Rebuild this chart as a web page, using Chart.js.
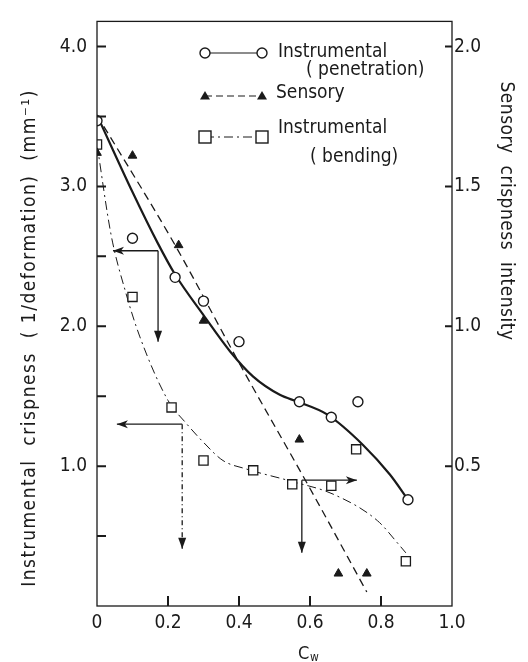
<!DOCTYPE html>
<html>
<head>
<meta charset="utf-8">
<script src="https://cdn.jsdelivr.net/npm/chart.js@4.4.1/dist/chart.umd.min.js"></script>
<style>
  html, body { margin: 0; padding: 0; background: #fff; }
  #wrap { width: 528px; height: 662px; }
</style>
</head>
<body>
<div id="wrap"><canvas id="chart" width="528" height="662"></canvas></div>
<script>
const penX = [0, 0.10, 0.22, 0.30, 0.40, 0.57, 0.66, 0.735, 0.876];
const penY = [3.47, 2.63, 2.35, 2.18, 1.89, 1.46, 1.35, 1.46, 0.76];

const senX = [0, 0.10, 0.23, 0.30, 0.57, 0.68, 0.76];
const senY = [1.62, 1.61, 1.29, 1.02, 0.595, 0.116, 0.116];

const bendX = [0, 0.10, 0.21, 0.30, 0.44, 0.55, 0.66, 0.73, 0.87];
const bendY = [3.30, 2.21, 1.42, 1.04, 0.97, 0.87, 0.86, 1.12, 0.32];

// fitted curves as drawn in the figure
const penFitX = [0, 0.10, 0.17, 0.22, 0.30, 0.375, 0.44, 0.515, 0.566, 0.648, 0.75, 0.825, 0.876];
const penFitY = [3.51, 2.96, 2.60, 2.37, 2.08, 1.82, 1.64, 1.51, 1.46, 1.37, 1.15, 0.94, 0.76];

const senFitX = [0, 0.22, 0.40, 0.60, 0.76];
const senFitY = [1.755, 1.29, 0.87, 0.42, 0.05];

const bendFitX = [0, 0.04, 0.08, 0.12, 0.20, 0.25, 0.30, 0.355, 0.42, 0.55, 0.665, 0.79, 0.85, 0.87];
const bendFitY = [3.30, 2.65, 2.25, 1.93, 1.47, 1.31, 1.17, 1.04, 0.98, 0.89, 0.80, 0.61, 0.44, 0.38];

// tick positions
const xTicks = [0.2, 0.4, 0.6, 0.8];
const leftTicks = [0.5, 1.0, 1.5, 2.0, 2.5, 3.0, 3.5, 4.0];
const rightTicks = [0.5, 1.0, 1.5, 2.0];

// reading arrows (left axis units): [x1, y1, x2, y2, head, dashed]
const arrows = [
  [0.172, 2.54, 0.045, 2.54, 'open', false],
  [0.172, 2.54, 0.172, 1.89, 'fill', false],
  [0.24, 1.30, 0.056, 1.30, 'open', false],
  [0.24, 1.30, 0.24, 0.41, 'fill', true],
  [0.577, 0.90, 0.577, 0.38, 'fill', false],
  [0.577, 0.90, 0.732, 0.90, 'open', false]
];

const FONT = '"DejaVu Sans Condensed", "DejaVu Sans", sans-serif';
const INK = '#1a1a1a';

const pts = (xs, ys) => xs.map((x, i) => ({ x, y: ys[i] }));

function drawArrowHead(ctx, x1, y1, x2, y2, kind) {
  const ang = Math.atan2(y2 - y1, x2 - x1);
  const len = 11, w = 4;
  ctx.save();
  ctx.translate(x2, y2);
  ctx.rotate(ang);
  ctx.beginPath();
  ctx.moveTo(0, 0);
  ctx.lineTo(-len, -w);
  if (kind === 'open') ctx.lineTo(-len + 3, 0);
  ctx.lineTo(-len, w);
  ctx.closePath();
  ctx.fillStyle = INK;
  ctx.fill();
  ctx.restore();
}

function drawMarker(ctx, style, x, y) {
  ctx.save();
  ctx.strokeStyle = INK;
  ctx.lineWidth = 1.4;
  if (style === 'circle') {
    ctx.beginPath();
    ctx.arc(x, y, 5, 0, Math.PI * 2);
    ctx.fillStyle = '#fff';
    ctx.fill();
    ctx.stroke();
  } else if (style === 'triangle') {
    ctx.beginPath();
    ctx.moveTo(x, y - 5);
    ctx.lineTo(x + 5, y + 3.5);
    ctx.lineTo(x - 5, y + 3.5);
    ctx.closePath();
    ctx.fillStyle = INK;
    ctx.fill();
  } else {
    ctx.fillStyle = '#fff';
    ctx.fillRect(x - 6, y - 6, 12, 12);
    ctx.strokeRect(x - 6, y - 6, 12, 12);
  }
  ctx.restore();
}

const decor = {
  id: 'decor',
  afterDraw(chart) {
    const { ctx, chartArea: a, scales } = chart;
    const sx = scales.x, sy = scales.y, sy2 = scales.y2;
    ctx.save();
    ctx.strokeStyle = INK;
    ctx.lineWidth = 1.3;
    ctx.strokeRect(a.left, a.top, a.right - a.left, a.bottom - a.top);

    // inward ticks
    ctx.lineWidth = 2;
    ctx.beginPath();
    xTicks.forEach(v => {
      const px = sx.getPixelForValue(v);
      ctx.moveTo(px, a.bottom);
      ctx.lineTo(px, a.bottom - 10);
    });
    leftTicks.forEach(v => {
      const py = sy.getPixelForValue(v);
      ctx.moveTo(a.left, py);
      ctx.lineTo(a.left + 9, py);
    });
    rightTicks.forEach(v => {
      const py = sy2.getPixelForValue(v);
      ctx.moveTo(a.right, py);
      ctx.lineTo(a.right - 7, py);
    });
    ctx.stroke();

    // arrows
    ctx.lineWidth = 1.3;
    arrows.forEach(([x1, y1, x2, y2, head, dashed]) => {
      const p1x = sx.getPixelForValue(x1), p1y = sy.getPixelForValue(y1);
      const p2x = sx.getPixelForValue(x2), p2y = sy.getPixelForValue(y2);
      ctx.setLineDash(dashed ? [5, 3, 1, 3] : []);
      ctx.beginPath();
      ctx.moveTo(p1x, p1y);
      ctx.lineTo(p2x, p2y);
      ctx.stroke();
      ctx.setLineDash([]);
      drawArrowHead(ctx, p1x, p1y, p2x, p2y, head);
    });

    // legend
    ctx.lineWidth = 1.2;
    ctx.setLineDash([]);
    ctx.beginPath(); ctx.moveTo(205, 53); ctx.lineTo(262, 53); ctx.stroke();
    ctx.setLineDash([7, 4]);
    ctx.beginPath(); ctx.moveTo(205, 96); ctx.lineTo(262, 96); ctx.stroke();
    ctx.setLineDash([9, 4, 2, 4]);
    ctx.lineWidth = 1;
    ctx.beginPath(); ctx.moveTo(205, 137); ctx.lineTo(262, 137); ctx.stroke();
    ctx.setLineDash([]);
    drawMarker(ctx, 'circle', 205, 53); drawMarker(ctx, 'circle', 262, 53);
    drawMarker(ctx, 'triangle', 205, 96); drawMarker(ctx, 'triangle', 262, 96);
    drawMarker(ctx, 'rect', 205, 137); drawMarker(ctx, 'rect', 262, 137);

    ctx.fillStyle = INK;
    ctx.font = '19px ' + FONT;
    ctx.textBaseline = 'middle';
    ctx.textAlign = 'left';
    ctx.fillText('Instrumental', 278, 52);
    ctx.fillText('( penetration)', 306, 70);
    ctx.fillText('Sensory', 276, 93);
    ctx.fillText('Instrumental', 278, 128);
    ctx.fillText('( bending)', 310, 157);

    // axis titles
    ctx.font = '19px ' + FONT;
    ctx.textAlign = 'center';
    ctx.letterSpacing = '1.5px';
    ctx.save();
    ctx.translate(30, 338);
    ctx.rotate(-Math.PI / 2);
    ctx.fillText('Instrumental  crispness  ( 1/deformation)  (mm\u207B\u00B9)', 0, 0);
    ctx.restore();
    ctx.letterSpacing = '0.5px';
    ctx.save();
    ctx.translate(506, 211);
    ctx.rotate(Math.PI / 2);
    ctx.fillText('Sensory  crispness  intensity', 0, 0);
    ctx.restore();
    ctx.letterSpacing = '0px';

    ctx.font = '18px ' + FONT;
    ctx.textAlign = 'left';
    ctx.fillText('C', 298, 654);
    ctx.font = '12px ' + FONT;
    ctx.fillText('w', 310, 658);
    ctx.restore();
  }
};

const tickFont = { family: FONT, size: 19 };

new Chart(document.getElementById('chart'), {
  type: 'scatter',
  data: {
    datasets: [
      {
        label: 'Instrumental (penetration) fit',
        data: pts(penFitX, penFitY),
        showLine: true, pointRadius: 0, borderColor: INK, borderWidth: 2.2,
        cubicInterpolationMode: 'monotone', yAxisID: 'y', order: 2
      },
      {
        label: 'Sensory fit',
        data: pts(senFitX, senFitY),
        showLine: true, pointRadius: 0, borderColor: INK, borderWidth: 1.3,
        borderDash: [8, 5], cubicInterpolationMode: 'monotone', yAxisID: 'y2', order: 2
      },
      {
        label: 'Instrumental (bending) fit',
        data: pts(bendFitX, bendFitY),
        showLine: true, pointRadius: 0, borderColor: INK, borderWidth: 1,
        borderDash: [9, 4, 2, 4], cubicInterpolationMode: 'monotone', yAxisID: 'y', order: 2
      },
      {
        label: 'Instrumental (penetration)',
        data: pts(penX, penY),
        pointStyle: 'circle', pointRadius: 5, borderWidth: 1.4,
        backgroundColor: '#fff', borderColor: INK, yAxisID: 'y', order: 1
      },
      {
        label: 'Sensory',
        data: pts(senX, senY),
        pointStyle: 'triangle', pointRadius: 5, borderWidth: 1,
        backgroundColor: INK, borderColor: INK, yAxisID: 'y2', order: 1
      },
      {
        label: 'Instrumental (bending)',
        data: pts(bendX, bendY),
        pointStyle: 'rect', pointRadius: 6.5, borderWidth: 1.3,
        backgroundColor: '#fff', borderColor: INK, yAxisID: 'y', order: 1
      }
    ]
  },
  options: {
    responsive: false,
    animation: false,
    layout: { padding: { top: 12, left: 0, right: 0, bottom: 0 } },
    plugins: { legend: { display: false }, tooltip: { enabled: false } },
    scales: {
      x: {
        type: 'linear', min: 0, max: 1,
        border: { display: false },
        grid: { display: false, drawTicks: false },
        ticks: {
          stepSize: 0.2, includeBounds: false, padding: 6, font: tickFont, color: INK,
          callback: v => v === 0 ? '0' : v.toFixed(1)
        },
        afterFit: s => { s.height = 56; }
      },
      y: {
        position: 'left', min: 0, max: 4.18,
        border: { display: false },
        grid: { display: false, drawTicks: false },
        ticks: {
          stepSize: 1, includeBounds: false, padding: 10, font: tickFont, color: INK,
          callback: v => v > 0 ? v.toFixed(1) : null
        },
        afterFit: s => { s.width = 97; }
      },
      y2: {
        position: 'right', min: 0, max: 2.09,
        border: { display: false },
        grid: { display: false, drawTicks: false },
        ticks: {
          stepSize: 0.5, includeBounds: false, padding: 2, font: tickFont, color: INK,
          callback: v => v > 0 ? v.toFixed(1) : null
        },
        afterFit: s => { s.width = 76; }
      }
    }
  },
  plugins: [decor]
});
</script>
</body>
</html>
